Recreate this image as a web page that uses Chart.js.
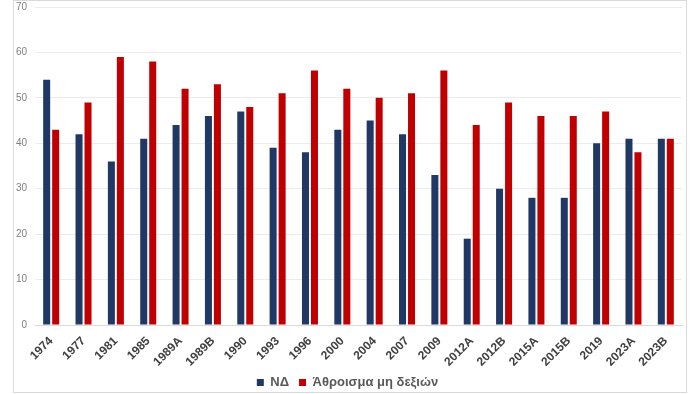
<!DOCTYPE html>
<html>
<head>
<meta charset="utf-8">
<script src="https://cdn.jsdelivr.net/npm/chart.js@4"></script>
<style>
  html, body { margin: 0; padding: 0; background: #fff; }
  #wrap { position: relative; width: 700px; height: 394px; }
  #frame { position: absolute; left: 13px; top: 0; width: 674px; height: 393px; box-sizing: border-box; border: 1px solid #d9d9d9; pointer-events: none; }
  canvas { position: absolute; left: 0; top: 0; }
</style>
</head>
<body>
<div id="wrap">
  <canvas id="chart" width="700" height="394"></canvas>
  <div id="frame"></div>
</div>
<script>
  // Data
  const elections = ['1974', '1977', '1981', '1985', '1989A', '1989B', '1990', '1993', '1996', '2000',
    '2004', '2007', '2009', '2012A', '2012B', '2015A', '2015B', '2019', '2023A', '2023B'];
  const ndValues = [54, 42, 36, 41, 44, 46, 47, 39, 38, 43, 45, 42, 33, 19, 30, 28, 28, 40, 41, 41];
  const nonRightValues = [43, 49, 59, 58, 52, 53, 48, 51, 56, 52, 50, 51, 56, 44, 49, 46, 46, 47, 38, 41];
  const yTicks = [0, 10, 20, 30, 40, 50, 60, 70];

  const font = 'Liberation Sans, Arial, sans-serif';

  new Chart(document.getElementById('chart'), {
    type: 'bar',
    data: {
      labels: elections,
      datasets: [
        { label: 'ΝΔ', data: ndValues, backgroundColor: '#1f3864', borderWidth: 0 },
        { label: 'Άθροισμα μη δεξιών', data: nonRightValues, backgroundColor: '#c00000', borderWidth: 0 }
      ]
    },
    options: {
      responsive: false,
      animation: false,
      layout: { padding: { left: 13, right: 18, top: 7, bottom: -5 } },
      datasets: { bar: { categoryPercentage: 0.556, barPercentage: 0.78 } },
      plugins: {
        tooltip: { enabled: false },
        legend: {
          position: 'bottom',
          labels: {
            boxWidth: 7, boxHeight: 7, padding: 10,
            color: '#595959',
            font: { family: font, size: 13, weight: 'bold' }
          }
        }
      },
      scales: {
        x: {
          grid: { display: false, drawTicks: false },
          border: { color: '#d9d9d9' },
          ticks: {
            minRotation: 45, maxRotation: 45, padding: 9,
            color: '#404040',
            font: { family: font, size: 12, weight: 'bold' }
          },
          afterFit: s => { s.height = 41; }
        },
        y: {
          min: 0, max: 70,
          afterBuildTicks: s => { s.ticks = yTicks.map(v => ({ value: v })); },
          grid: { color: '#ececec', drawTicks: false },
          border: { display: false },
          ticks: {
            padding: 8,
            color: '#7f7f7f',
            font: { family: font, size: 10 }
          },
          afterFit: s => { s.width = 22; s.paddingTop = 0; s.paddingBottom = 0; }
        }
      }
    }
  });
</script>
</body>
</html>
